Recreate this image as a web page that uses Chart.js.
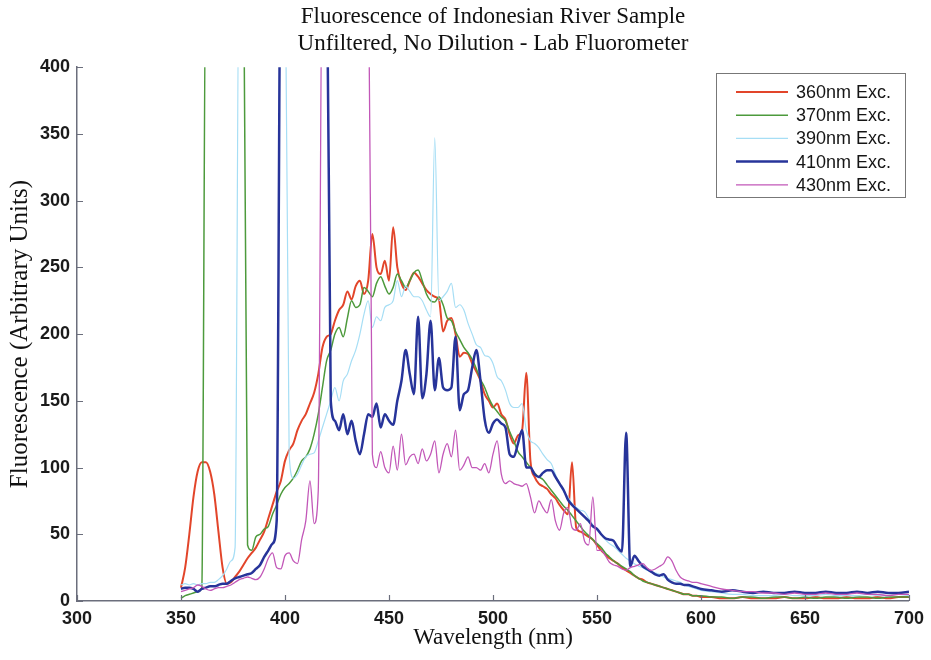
<!DOCTYPE html>
<html>
<head>
<meta charset="utf-8">
<script src="https://cdn.jsdelivr.net/npm/chart.js@4.4.0/dist/chart.umd.min.js"></script>
<style>
  html, body { margin: 0; padding: 0; background: #fff; }
  #wrap { width: 931px; height: 660px; }
</style>
</head>
<body>
<div id="wrap"><canvas id="myChart" width="931" height="660"></canvas></div>
<script>
// wavelengths (nm)
const wavelengths = [
  350,352,354,356,358,360,362,364,366,368,
  370,372,374,376,378,380,382,384,386,388,
  390,392,394,396,398,400,402,404,406,408,
  410,412,414,416,418,420,422,424,426,428,
  430,432,434,436,438,440,442,444,446,448,
  450,452,454,456,458,460,462,464,466,468,
  470,472,474,476,478,480,482,484,486,488,
  490,492,494,496,498,500,502,504,506,508,
  510,512,514,516,518,520,522,524,526,528,
  530,532,534,536,538,540,542,544,546,548,
  550,552,554,556,558,560,562,564,566,568,
  570,572,574,576,578,580,582,584,586,588,
  590,592,594,596,598,600,
  605,610,615,620,625,630,635,640,645,650,
  655,660,665,670,675,680,685,690,695,700
];

const exc360 = [
  10,25,50,78,97,104,104,97,80,52,
  25,13,14,18,22,27,32,36,40,46,
  52,62,72,82,90,105,113,118,128,135,
  140,148,156,170,190,198,200,210,218,222,
  232,226,236,240,230,240,275,250,245,255,
  240,280,250,238,233,240,246,243,238,233,
  230,228,226,202,210,212,200,183,186,185,
  178,172,165,155,150,145,148,140,136,125,
  118,124,128,171,105,93,88,86,84,80,
  77,72,68,65,104,55,52,50,48,46,
  42,38,35,32,30,28,25,23,21,19,
  17,16,14,13,12,11,10,9,8,7,
  6,5,5,4,4,3,
  3,2,2,3,2,2,2,3,2,2,3,2,2,3,2,2,3,2,3,3
];

const exc370 = [
  2,4,5,6,7,10,500,500,500,500,
  500,500,500,500,500,500,42,38,48,50,
  54,56,65,72,80,85,88,92,98,105,
  108,114,125,140,160,180,188,200,205,198,
  212,225,220,222,235,232,228,238,243,236,
  230,235,245,240,235,240,246,248,240,230,
  225,224,228,222,212,210,202,196,190,186,
  181,174,166,160,152,146,142,138,135,127,
  120,112,108,104,100,96,93,91,87,83,
  79,75,71,68,64,60,56,52,49,46,
  43,40,36,33,30,28,26,24,22,19,
  17,15,14,13,12,11,10,9,8,7,
  6,5,5,4,4,4,
  3,3,2,3,3,2,3,3,2,3,2,3,3,2,3,3,2,3,3,3
];

const exc390 = [
  12,13,12,13,12,13,13,14,14,16,
  19,24,30,40,500,500,500,500,500,500,
  500,500,500,500,500,500,110,92,95,102,
  108,110,111,120,130,140,150,160,150,165,
  170,180,188,200,215,225,205,213,210,220,
  222,225,240,228,236,232,228,228,225,218,
  213,347,225,228,232,238,220,222,218,208,
  200,192,190,184,183,178,168,165,158,148,
  145,145,148,128,120,118,115,110,106,103,
  95,88,82,78,73,70,68,67,62,57,
  53,50,46,43,41,38,35,32,30,28,
  26,25,23,22,21,20,18,17,16,15,
  14,12,11,10,9,8,
  7,6,5,5,4,4,4,5,4,4,4,5,4,4,4,5,4,4,5,4
];

const exc410 = [
  9,10,10,9,7,9,10,11,11,12,
  13,13,15,17,18,19,20,21,24,27,
  33,38,43,60,500,500,500,500,500,500,
  500,500,500,500,500,500,150,135,128,140,
  125,135,120,110,125,140,138,148,130,140,
  135,132,150,165,188,170,155,213,152,170,
  210,158,182,160,158,160,198,143,155,158,
  175,188,165,136,126,133,136,133,130,110,
  108,118,128,100,100,95,93,96,98,98,
  93,88,83,76,72,69,66,63,60,56,
  54,50,47,46,45,40,37,126,26,34,
  30,26,24,22,20,19,20,16,14,13,
  13,12,12,11,10,9,
  8,7,8,7,6,7,6,6,7,6,6,7,6,6,7,6,7,6,6,7
];

const exc430 = [
  7,8,9,10,12,11,9,8,9,10,
  10,11,12,14,16,17,18,17,16,18,
  24,32,36,25,24,34,36,30,28,46,
  60,90,58,83,500,500,500,500,500,500,
  500,500,500,500,500,500,110,100,112,100,
  96,116,98,125,102,108,110,103,114,105,
  110,120,96,110,118,108,128,98,102,108,
  100,100,98,103,96,110,120,95,88,90,
  88,87,86,88,78,66,75,70,66,76,
  60,53,66,70,55,53,58,45,42,78,
  38,38,34,29,27,26,24,23,25,26,
  27,28,25,23,24,26,28,33,30,23,
  18,16,15,14,14,13,
  11,9,8,7,7,6,6,5,6,5,5,6,5,5,6,5,5,4,5,5
];

const seriesNames = ["360nm Exc.", "370nm Exc.", "390nm Exc.", "410nm Exc.", "430nm Exc."];
const seriesValues = [exc360, exc370, exc390, exc410, exc430];
const seriesColors = ["#e2452a", "#4d9a3c", "#a6def5", "#27349a", "#c257b8"];
const seriesWidths = [2, 1.5, 1.2, 2.5, 1.3];

const xTicks = [300, 350, 400, 450, 500, 550, 600, 650, 700];
const yTicks = [0, 50, 100, 150, 200, 250, 300, 350, 400];

const titleLines = ["Fluorescence of Indonesian River Sample", "Unfiltered, No Dilution - Lab Fluorometer"];

const datasets = seriesValues.map(function (vals, i) {
  return {
    label: seriesNames[i],
    data: vals.map(function (v, j) { return { x: wavelengths[j], y: v }; }),
    borderColor: seriesColors[i],
    backgroundColor: seriesColors[i],
    borderWidth: seriesWidths[i],
    pointRadius: 0,
    cubicInterpolationMode: 'monotone',
    order: 5 - i
  };
});

// inward tick marks (matlab style)
const innerTicks = {
  id: 'innerTicks',
  afterDraw(chart) {
    const ctx = chart.ctx;
    const xs = chart.scales.x, ys = chart.scales.y;
    const area = chart.chartArea;
    ctx.save();
    ctx.strokeStyle = '#6b6e7c';
    ctx.lineWidth = 1.2;
    ctx.beginPath();
    xTicks.forEach(function (t) {
      const px = Math.round(xs.getPixelForValue(t)) + 0.5;
      ctx.moveTo(px, area.bottom);
      ctx.lineTo(px, area.bottom - 6);
    });
    yTicks.forEach(function (t) {
      const py = Math.round(ys.getPixelForValue(t)) + 0.5;
      ctx.moveTo(area.left, py);
      ctx.lineTo(area.left + 6, py);
    });
    ctx.stroke();
    ctx.restore();
  }
};

// boxed legend in the top right
const boxLegend = {
  id: 'boxLegend',
  afterDraw(chart) {
    const ctx = chart.ctx;
    const left = 716, top = 73, w = 189, h = 124;
    ctx.save();
    ctx.fillStyle = '#fff';
    ctx.fillRect(left, top, w, h);
    ctx.strokeStyle = '#777';
    ctx.lineWidth = 1;
    ctx.strokeRect(left + 0.5, top + 0.5, w, h);
    ctx.font = '18px "Liberation Sans", Arial, sans-serif';
    ctx.textBaseline = 'middle';
    chart.data.datasets.forEach(function (ds, i) {
      const y = top + 19 + i * 23.2;
      ctx.strokeStyle = ds.borderColor;
      ctx.lineWidth = ds.borderWidth;
      ctx.beginPath();
      ctx.moveTo(left + 20, y);
      ctx.lineTo(left + 72, y);
      ctx.stroke();
      ctx.fillStyle = '#151515';
      ctx.fillText(ds.label, left + 80, y + 1);
    });
    ctx.restore();
  }
};

const ctx = document.getElementById('myChart');

const config = {
  type: 'line',
  data: { datasets: datasets },
  options: {
    responsive: false,
    animation: false,
    layout: { padding: { left: 0, right: 18, top: 0, bottom: 0 } },
    plugins: {
      legend: { display: false },
      tooltip: { enabled: false },
      title: {
        display: true,
        fullSize: false,
        text: titleLines,
        color: '#111',
        font: { family: '"Liberation Serif", "Times New Roman", serif', size: 23, weight: 'normal', lineHeight: 1.2 },
        padding: { top: 3, bottom: 9 }
      }
    },
    scales: {
      x: {
        type: 'linear',
        min: 300,
        max: 700,
        afterFit(scale) { scale.height = 59; },
        afterBuildTicks(scale) { scale.ticks = xTicks.map(function (v) { return { value: v }; }); },
        grid: { display: false, drawTicks: false },
        border: { display: true, color: '#6b6e7c', width: 1.5 },
        ticks: {
          padding: 7,
          color: '#1a1a1a',
          maxRotation: 0,
          font: { family: '"Liberation Sans", Arial, sans-serif', size: 18, weight: 'bold' }
        },
        title: {
          display: true,
          text: 'Wavelength (nm)',
          color: '#111',
          font: { family: '"Liberation Serif", "Times New Roman", serif', size: 23 },
          padding: { top: 0, bottom: 8 }
        }
      },
      y: {
        min: 0,
        max: 400,
        afterFit(scale) { scale.width = 77; },
        afterBuildTicks(scale) { scale.ticks = yTicks.map(function (v) { return { value: v }; }); },
        grid: { display: false, drawTicks: false },
        border: { display: true, color: '#6b6e7c', width: 1.5 },
        ticks: {
          padding: 7,
          color: '#1a1a1a',
          font: { family: '"Liberation Sans", Arial, sans-serif', size: 18, weight: 'bold' }
        },
        title: {
          display: true,
          text: 'Fluorescence (Arbitrary Units)',
          color: '#111',
          font: { family: '"Liberation Serif", "Times New Roman", serif', size: 25 },
          padding: { top: 5, bottom: 0 }
        }
      }
    }
  },
  plugins: [innerTicks, boxLegend]
};

const myChart = new Chart(ctx, config);
</script>
</body>
</html>
